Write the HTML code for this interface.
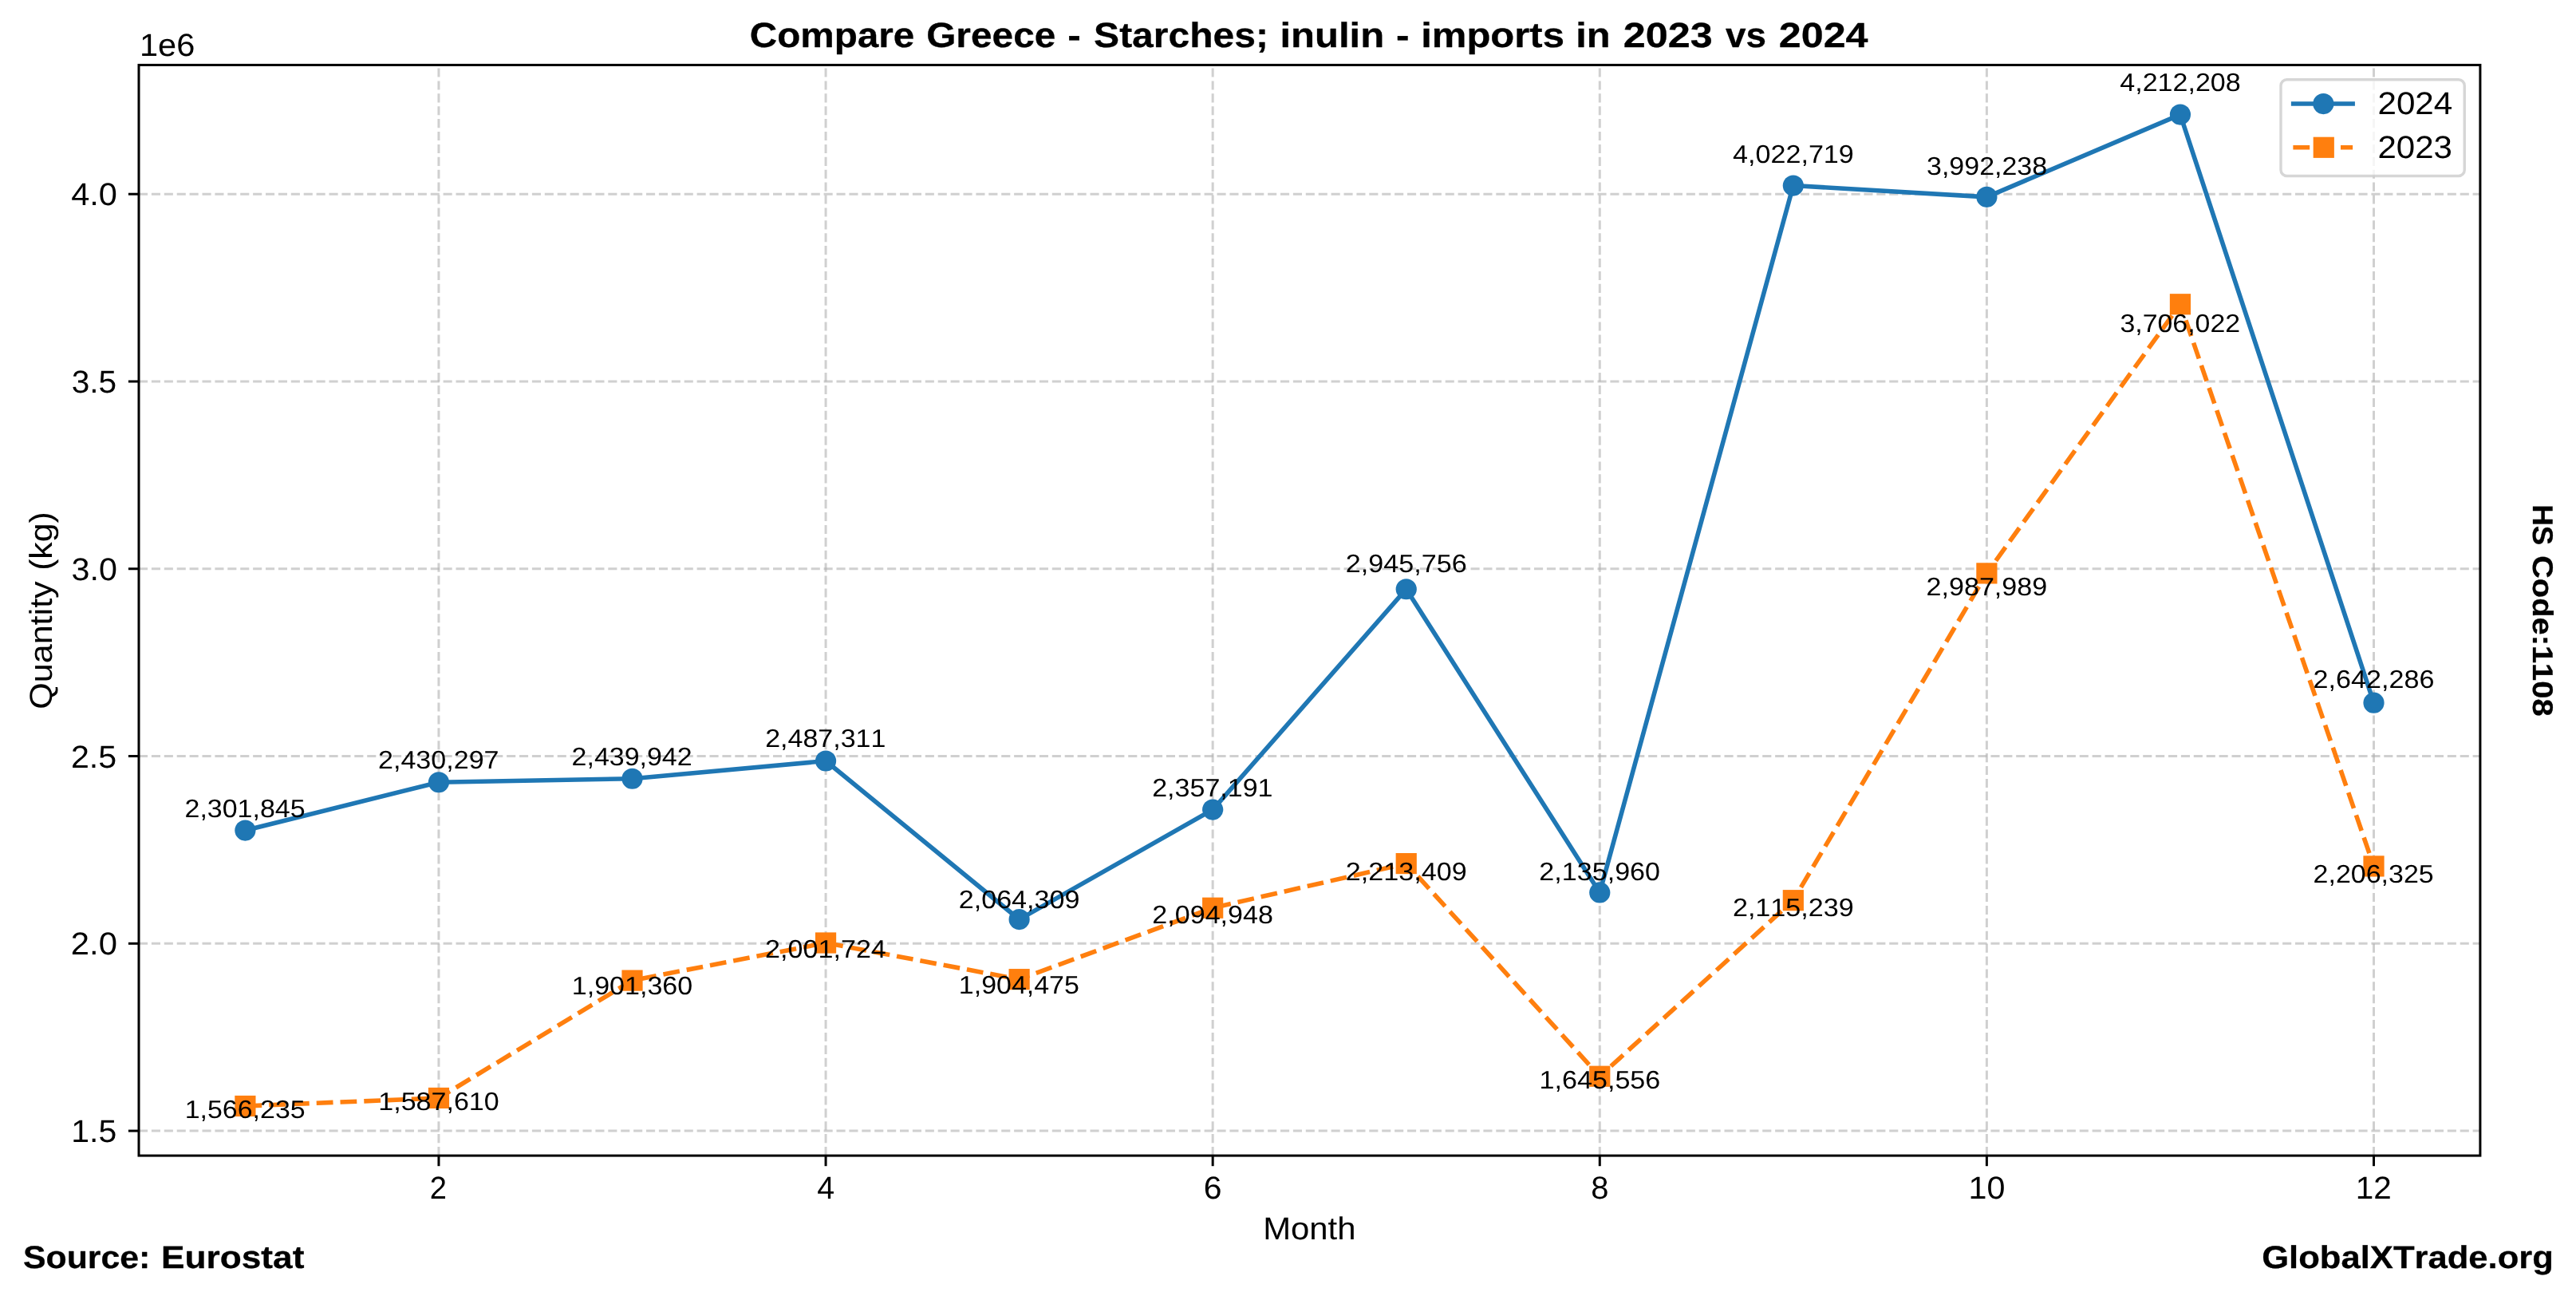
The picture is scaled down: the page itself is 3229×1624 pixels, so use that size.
<!DOCTYPE html>
<html lang="en"><head><meta charset="utf-8"><title>Compare Greece - Starches; inulin - imports in 2023 vs 2024</title>
<style>html,body{margin:0;padding:0;background:#fff;}body{width:3229px;height:1624px;overflow:hidden;}svg{display:block;will-change:transform;}text{font-family:"Liberation Sans",sans-serif;fill:#000;font-kerning:none;text-rendering:geometricPrecision;white-space:pre;}.b{font-weight:bold;stroke:#000;stroke-width:0.3px;stroke-linejoin:round;}</style></head><body>
<svg width="3229" height="1624" viewBox="0 0 3229 1624">
<rect x="0" y="0" width="3229" height="1624" fill="#ffffff"/>
<g stroke="#b0b0b0" stroke-opacity="0.6" stroke-width="3" stroke-dasharray="11.1 4.8" fill="none">
<path d="M549.96 1448.1 V81.45"/>
<path d="M1035.07 1448.1 V81.45"/>
<path d="M1520.17 1448.1 V81.45"/>
<path d="M2005.28 1448.1 V81.45"/>
<path d="M2490.39 1448.1 V81.45"/>
<path d="M2975.5 1448.1 V81.45"/>
<path d="M174 1417.08 H3108.9"/>
<path d="M174 1182.31 H3108.9"/>
<path d="M174 947.53 H3108.9"/>
<path d="M174 712.76 H3108.9"/>
<path d="M174 477.99 H3108.9"/>
<path d="M174 243.21 H3108.9"/>
</g>
<polyline points="307.4,1040.58 549.96,980.26 792.51,975.73 1035.07,953.49 1277.62,1152.11 1520.17,1014.59 1762.73,738.23 2005.28,1118.47 2247.83,232.54 2490.39,246.86 2732.94,143.57 2975.5,880.72" fill="none" stroke="#1f77b4" stroke-width="5.625" stroke-linejoin="round" stroke-linecap="square"/>
<g fill="#1f77b4"><circle cx="307.4" cy="1040.58" r="13.1"/><circle cx="549.96" cy="980.26" r="13.1"/><circle cx="792.51" cy="975.73" r="13.1"/><circle cx="1035.07" cy="953.49" r="13.1"/><circle cx="1277.62" cy="1152.11" r="13.1"/><circle cx="1520.17" cy="1014.59" r="13.1"/><circle cx="1762.73" cy="738.23" r="13.1"/><circle cx="2005.28" cy="1118.47" r="13.1"/><circle cx="2247.83" cy="232.54" r="13.1"/><circle cx="2490.39" cy="246.86" r="13.1"/><circle cx="2732.94" cy="143.57" r="13.1"/><circle cx="2975.5" cy="880.72" r="13.1"/></g>
<polyline points="307.4,1385.98 549.96,1375.94 792.51,1228.62 1035.07,1181.5 1277.62,1227.16 1520.17,1137.72 1762.73,1082.1 2005.28,1348.73 2247.83,1128.2 2490.39,718.4 2732.94,381.25 2975.5,1085.43" fill="none" stroke="#ff7f0e" stroke-width="5.625" stroke-linejoin="round" stroke-dasharray="20.8 9"/>
<g fill="#ff7f0e"><rect x="294.3" y="1372.88" width="26.2" height="26.2"/><rect x="536.86" y="1362.84" width="26.2" height="26.2"/><rect x="779.41" y="1215.52" width="26.2" height="26.2"/><rect x="1021.97" y="1168.4" width="26.2" height="26.2"/><rect x="1264.52" y="1214.06" width="26.2" height="26.2"/><rect x="1507.07" y="1124.62" width="26.2" height="26.2"/><rect x="1749.63" y="1069" width="26.2" height="26.2"/><rect x="1992.18" y="1335.63" width="26.2" height="26.2"/><rect x="2234.73" y="1115.1" width="26.2" height="26.2"/><rect x="2477.29" y="705.3" width="26.2" height="26.2"/><rect x="2719.84" y="368.15" width="26.2" height="26.2"/><rect x="2962.4" y="1072.33" width="26.2" height="26.2"/></g>
<rect x="174" y="81.45" width="2934.9" height="1366.65" fill="none" stroke="#000" stroke-width="3"/>
<g stroke="#000" stroke-width="3">
<path d="M549.96 1448.1 v13.1"/>
<path d="M1035.07 1448.1 v13.1"/>
<path d="M1520.17 1448.1 v13.1"/>
<path d="M2005.28 1448.1 v13.1"/>
<path d="M2490.39 1448.1 v13.1"/>
<path d="M2975.5 1448.1 v13.1"/>
<path d="M174 1417.08 h-13.1"/>
<path d="M174 1182.31 h-13.1"/>
<path d="M174 947.53 h-13.1"/>
<path d="M174 712.76 h-13.1"/>
<path d="M174 477.99 h-13.1"/>
<path d="M174 243.21 h-13.1"/>
</g>
<text y="58.96"  font-size="43.71" class="b"><tspan x="939.82" textLength="206.56" lengthAdjust="spacingAndGlyphs">Compare</tspan> <tspan x="1161.21" textLength="162.09" lengthAdjust="spacingAndGlyphs">Greece</tspan> <tspan x="1338.32" textLength="16.58" lengthAdjust="spacingAndGlyphs">-</tspan> <tspan x="1371.1" textLength="218.9" lengthAdjust="spacingAndGlyphs">Starches;</tspan> <tspan x="1604.45" textLength="130.71" lengthAdjust="spacingAndGlyphs">inulin</tspan> <tspan x="1750" textLength="16.58" lengthAdjust="spacingAndGlyphs">-</tspan> <tspan x="1781.24" textLength="179.68" lengthAdjust="spacingAndGlyphs">imports</tspan> <tspan x="1975.29" textLength="43.35" lengthAdjust="spacingAndGlyphs">in</tspan> <tspan x="2034.72" textLength="111.96" lengthAdjust="spacingAndGlyphs">2023</tspan> <tspan x="2162.96" textLength="50.96" lengthAdjust="spacingAndGlyphs">vs</tspan> <tspan x="2229.88" textLength="111.67" lengthAdjust="spacingAndGlyphs">2024</tspan></text>
<text y="1553.3" x="1583.16" textLength="116.36" lengthAdjust="spacingAndGlyphs" font-size="39.74">Month</text>
<text transform="translate(65.17 888.85) rotate(-90)"  font-size="39.74"><tspan x="0.07" textLength="160.45" lengthAdjust="spacingAndGlyphs">Quantity</tspan> <tspan x="173.99" textLength="73.57" lengthAdjust="spacingAndGlyphs">(kg)</tspan></text>
<text y="70.2" x="174.95" textLength="69.35" lengthAdjust="spacingAndGlyphs" font-size="39.74">1e6</text>
<text y="1502.32" x="538.86" textLength="21.2" lengthAdjust="spacingAndGlyphs" font-size="39.74">2</text>
<text y="1502.32" x="1024.13" textLength="21.85" lengthAdjust="spacingAndGlyphs" font-size="39.74">4</text>
<text y="1502.32" x="1508.78" textLength="22.76" lengthAdjust="spacingAndGlyphs" font-size="39.74">6</text>
<text y="1502.32" x="1994.16" textLength="22.23" lengthAdjust="spacingAndGlyphs" font-size="39.74">8</text>
<text y="1502.32" x="2467.5" textLength="45.87" lengthAdjust="spacingAndGlyphs" font-size="39.74">10</text>
<text y="1502.32" x="2952.67" textLength="44.97" lengthAdjust="spacingAndGlyphs" font-size="39.74">12</text>
<text y="1431.07" x="89.29" textLength="56.91" lengthAdjust="spacingAndGlyphs" font-size="39.74">1.5</text>
<text y="1196.3" x="88.81" textLength="58.09" lengthAdjust="spacingAndGlyphs" font-size="39.74">2.0</text>
<text y="961.52" x="88.97" textLength="57.25" lengthAdjust="spacingAndGlyphs" font-size="39.74">2.5</text>
<text y="726.75" x="89.58" textLength="57.31" lengthAdjust="spacingAndGlyphs" font-size="39.74">3.0</text>
<text y="491.98" x="89.73" textLength="56.47" lengthAdjust="spacingAndGlyphs" font-size="39.74">3.5</text>
<text y="257.2" x="89.17" textLength="57.73" lengthAdjust="spacingAndGlyphs" font-size="39.74">4.0</text>
<text y="1024.36" x="231.56" textLength="150.99" lengthAdjust="spacingAndGlyphs" font-size="31.79">2,301,845</text>
<text y="963.14" x="473.98" textLength="151.59" lengthAdjust="spacingAndGlyphs" font-size="31.79">2,430,297</text>
<text y="958.55" x="716.6" textLength="151.02" lengthAdjust="spacingAndGlyphs" font-size="31.79">2,439,942</text>
<text y="935.97" x="959.15" textLength="151.2" lengthAdjust="spacingAndGlyphs" font-size="31.79">2,487,311</text>
<text y="1137.57" x="1201.7" textLength="151.83" lengthAdjust="spacingAndGlyphs" font-size="31.79">2,064,309</text>
<text y="997.98" x="1444.2" textLength="151.33" lengthAdjust="spacingAndGlyphs" font-size="31.79">2,357,191</text>
<text y="717.48" x="1686.74" textLength="152.06" lengthAdjust="spacingAndGlyphs" font-size="31.79">2,945,756</text>
<text y="1103.42" x="1929.36" textLength="151.66" lengthAdjust="spacingAndGlyphs" font-size="31.79">2,135,960</text>
<text y="204.21" x="2172.05" textLength="151.75" lengthAdjust="spacingAndGlyphs" font-size="31.79">4,022,719</text>
<text y="218.74" x="2415.04" textLength="151.11" lengthAdjust="spacingAndGlyphs" font-size="31.79">3,992,238</text>
<text y="113.9" x="2657.29" textLength="151.42" lengthAdjust="spacingAndGlyphs" font-size="31.79">4,212,208</text>
<text y="862.11" x="2899.64" textLength="151.81" lengthAdjust="spacingAndGlyphs" font-size="31.79">2,642,286</text>
<text y="1400.69" x="231.72" textLength="150.89" lengthAdjust="spacingAndGlyphs" font-size="31.79">1,566,235</text>
<text y="1390.85" x="474.26" textLength="151.44" lengthAdjust="spacingAndGlyphs" font-size="31.79">1,587,610</text>
<text y="1246.48" x="716.81" textLength="151.44" lengthAdjust="spacingAndGlyphs" font-size="31.79">1,901,360</text>
<text y="1200.29" x="959.08" textLength="151.76" lengthAdjust="spacingAndGlyphs" font-size="31.79">2,001,724</text>
<text y="1245.04" x="1201.87" textLength="151.02" lengthAdjust="spacingAndGlyphs" font-size="31.79">1,904,475</text>
<text y="1157.39" x="1444.32" textLength="151.62" lengthAdjust="spacingAndGlyphs" font-size="31.79">2,094,948</text>
<text y="1102.88" x="1686.81" textLength="151.83" lengthAdjust="spacingAndGlyphs" font-size="31.79">2,213,409</text>
<text y="1364.19" x="1929.58" textLength="151.71" lengthAdjust="spacingAndGlyphs" font-size="31.79">1,645,556</text>
<text y="1148.06" x="2171.91" textLength="151.83" lengthAdjust="spacingAndGlyphs" font-size="31.79">2,115,239</text>
<text y="746.46" x="2414.53" textLength="151.7" lengthAdjust="spacingAndGlyphs" font-size="31.79">2,987,989</text>
<text y="416.05" x="2657.47" textLength="150.63" lengthAdjust="spacingAndGlyphs" font-size="31.79">3,706,022</text>
<text y="1106.14" x="2899.58" textLength="151.12" lengthAdjust="spacingAndGlyphs" font-size="31.79">2,206,325</text>
<text y="1589.18"  font-size="39.74" class="b"><tspan x="28.98" textLength="159.39" lengthAdjust="spacingAndGlyphs">Source:</tspan> <tspan x="201.92" textLength="179.49" lengthAdjust="spacingAndGlyphs">Eurostat</tspan></text>
<text y="1589.18" x="2835.2" textLength="365.76" lengthAdjust="spacingAndGlyphs" font-size="39.74" class="b">GlobalXTrade.org</text>
<text transform="translate(3175.21 631.63) rotate(90)"  font-size="35.76" class="b"><tspan x="0.65" textLength="50.91" lengthAdjust="spacingAndGlyphs">HS</tspan> <tspan x="64.39" textLength="201.62" lengthAdjust="spacingAndGlyphs">Code:1108</tspan></text>
<rect x="2858.99" y="99.79" width="230.26" height="120.7" rx="7.5" ry="7.5" fill="#fff" fill-opacity="0.8" stroke="#ccc" stroke-opacity="0.8" stroke-width="3.4"/>
<path d="M2874.69 130.05 H2949.1" stroke="#1f77b4" stroke-width="5.625" stroke-linecap="square" fill="none"/>
<circle cx="2912.37" cy="130.05" r="13.1" fill="#1f77b4"/>
<path d="M2874.39 184.78 H2949.1" stroke="#ff7f0e" stroke-width="5.625" stroke-dasharray="20.8 9" fill="none"/>
<rect x="2899.67" y="171.68" width="26.2" height="26.2" fill="#ff7f0e"/>
<text y="143.17" x="2980.46" textLength="93.83" lengthAdjust="spacingAndGlyphs" font-size="39.74">2024</text>
<text y="197.9" x="2980.47" textLength="93.54" lengthAdjust="spacingAndGlyphs" font-size="39.74">2023</text>
</svg></body></html>
